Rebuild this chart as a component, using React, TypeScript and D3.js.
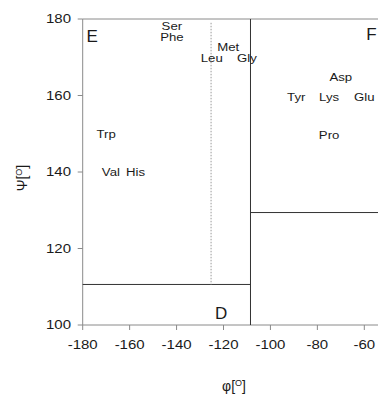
import React from "react";
import * as d3 from "d3";

// residue labels placed at (phi, psi) in degrees
const residues = ["Ser", "Phe", "Met", "Leu", "Gly", "Asp", "Tyr", "Lys", "Glu", "Pro", "Trp", "Val", "His"];
const residuePhi = [-142, -142, -118, -125, -110, -70, -89, -75, -60, -75, -170, -168, -157.5];
const residuePsi = [178.2, 175.2, 172.7, 169.8, 169.8, 164.8, 159.6, 159.6, 159.6, 149.7, 149.9, 140, 140];

const xTicks = [-180, -160, -140, -120, -100, -80, -60];
const yTicks = [100, 120, 140, 160, 180];

// region boundaries
const phiSplit = -108.5;
const phiDotted = -125.3;
const psiLowLeft = 110.6;
const psiRight = 129.4;

const regionNames = ["E", "F", "D"];
const regionPhi = [-176, -57, -121];
const regionPsi = [175.5, 176, 103];

const W = 378;
const H = 397;
const SX = 1.2; // glyphs in the reference look stretched horizontally

const Label = ({ x, y, size, anchor = "middle", sx = SX, children }: any) => (
  <text
    transform={`translate(${x},${y}) scale(${sx},1)`}
    textAnchor={anchor}
    dominantBaseline="central"
    fontSize={size}
    fill="#1a1a1a"
  >
    {children}
  </text>
);

export default function App() {
  const x = d3.scaleLinear().domain([-180, -60]).range([82.7, 364.3]);
  const y = d3.scaleLinear().domain([100, 180]).range([325, 19]);
  const axisColor = "#8a8a8a";
  const lineColor = "#333";

  return (
    <svg
      width={W}
      height={H}
      style={{ position: "absolute", left: 0, top: 0, background: "#fff" }}
      fontFamily="'Liberation Sans', Arial, sans-serif"
    >
      {/* frame: left axis, top line, bottom axis */}
      <line x1={x(-180)} x2={x(-180)} y1={y(100)} y2={y(180)} stroke={axisColor} />
      <line x1={x(-180)} x2={x(-50)} y1={y(180)} y2={y(180)} stroke={axisColor} />
      <line x1={x(-180)} x2={x(-50)} y1={y(100)} y2={y(100)} stroke={axisColor} />

      {yTicks.map((t) => (
        <g key={"y" + t}>
          <line x1={x(-180) - 5} x2={x(-180)} y1={y(t)} y2={y(t)} stroke={axisColor} />
          <Label x={71} y={y(t)} size={12.5} anchor="end">{t}</Label>
        </g>
      ))}
      {xTicks.map((t) => (
        <g key={"x" + t}>
          <line x1={x(t)} x2={x(t)} y1={y(100)} y2={y(100) + 5} stroke={axisColor} />
          <Label x={x(t)} y={344.5} size={12.5}>{t}</Label>
        </g>
      ))}

      {/* region boundaries */}
      <line x1={x(phiSplit)} x2={x(phiSplit)} y1={y(100)} y2={y(180)} stroke={lineColor} />
      <line x1={x(-180)} x2={x(phiSplit)} y1={y(psiLowLeft)} y2={y(psiLowLeft)} stroke={lineColor} />
      <line x1={x(phiSplit)} x2={x(-50)} y1={y(psiRight)} y2={y(psiRight)} stroke={lineColor} />
      <line
        x1={x(phiDotted)}
        x2={x(phiDotted)}
        y1={y(179)}
        y2={y(psiLowLeft)}
        stroke="#999"
        strokeDasharray="1.5,1.5"
      />

      {regionNames.map((r, i) => (
        <Label key={r} x={x(regionPhi[i])} y={y(regionPsi[i])} size={17} sx={1}>{r}</Label>
      ))}

      {residues.map((r, i) => (
        <Label key={r} x={x(residuePhi[i])} y={y(residuePsi[i])} size={11}>{r}</Label>
      ))}

      {/* axis titles */}
      <text
        transform={`translate(27,178) rotate(-90)`}
        textAnchor="middle"
        fontSize={14}
        fill="#1a1a1a"
      >
        Ψ[<tspan fontSize={9} dy={-5}>O</tspan><tspan dy={5}>]</tspan>
      </text>
      <text x={234} y={391} textAnchor="middle" fontSize={14} fill="#1a1a1a">
        φ[<tspan fontSize={9} dy={-5}>O</tspan><tspan dy={5}>]</tspan>
      </text>
    </svg>
  );
}
